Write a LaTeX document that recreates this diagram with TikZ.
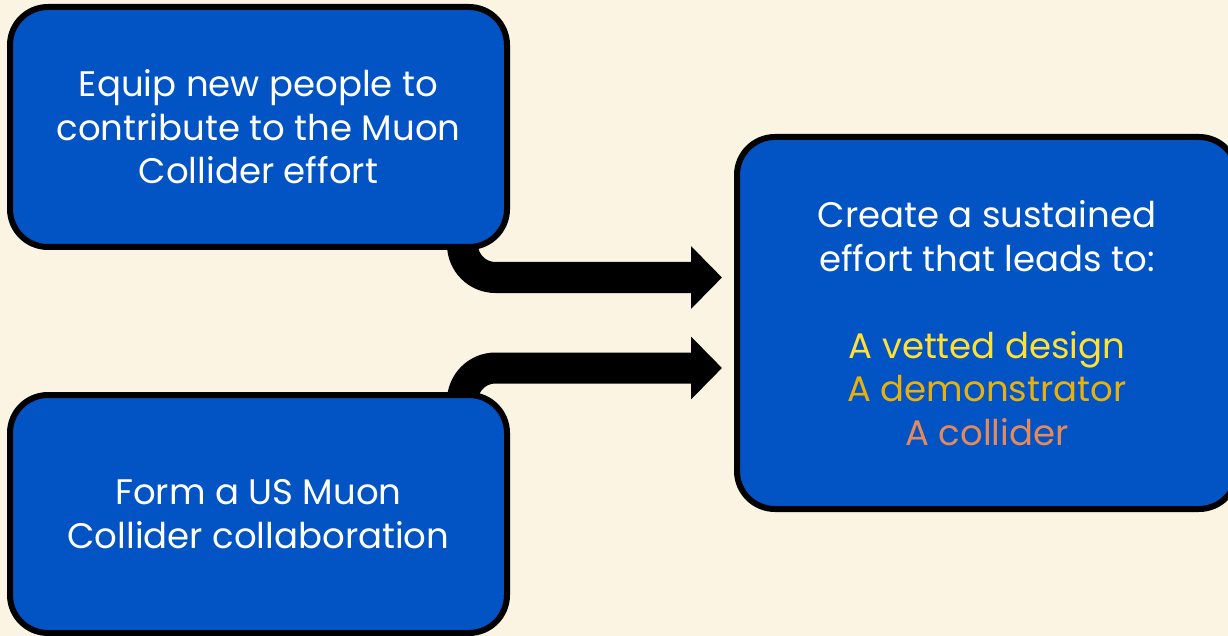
\documentclass[tikz,border=0pt]{standalone}
\usepackage{fontspec}
\setmainfont{Poppins}
\usetikzlibrary{arrows.meta}
\definecolor{bgc}{HTML}{FBF4E3}
\definecolor{boxblue}{HTML}{0254C4}
\definecolor{tyellow}{HTML}{FFE033}
\definecolor{tgold}{HTML}{E8B00E}
\definecolor{tcoral}{HTML}{E5885A}
\tikzset{
  goalbox/.style={draw=black, line width=6pt, fill=boxblue, rounded corners=38pt,
    text=white, align=center, inner sep=0pt,
    font=\fontsize{35.5}{43.5}\selectfont},
  flowarrow/.style={draw=black, line width=31pt, rounded corners=33pt,
    -{Triangle[length=31pt,width=61pt]}}
}
\begin{document}
\begin{tikzpicture}[x=1pt,y=-1pt]
\fill[bgc] (0,0) rectangle (1228,636);
\useasboundingbox (0,0) rectangle (1228,636);
% connector end points
\coordinate (s1) at (462.5,235);
\coordinate (t1) at (722,277.5);
\coordinate (s2) at (462.5,405);
\coordinate (t2) at (722,368);
\draw[flowarrow] (s1) |- (t1);
\draw[flowarrow] (s2) |- (t2);
\node[goalbox, minimum width=497pt, minimum height=240pt] (b1) at (258.5,127)
  {Equip new people to\\contribute to the Muon\\Collider effort};
\node[goalbox, minimum width=497pt, minimum height=238pt] (b2) at (258.5,514)
  {Form a US Muon\\Collider collaboration};
\node[goalbox, minimum width=500pt, minimum height=372pt] (b3) at (987,323)
  {Create a sustained\\effort that leads to:\\[43.5pt]
   \textcolor{tyellow}{A vetted design}\\
   \textcolor{tgold}{A demonstrator}\\
   \textcolor{tcoral}{A collider}};
\end{tikzpicture}
\end{document}
